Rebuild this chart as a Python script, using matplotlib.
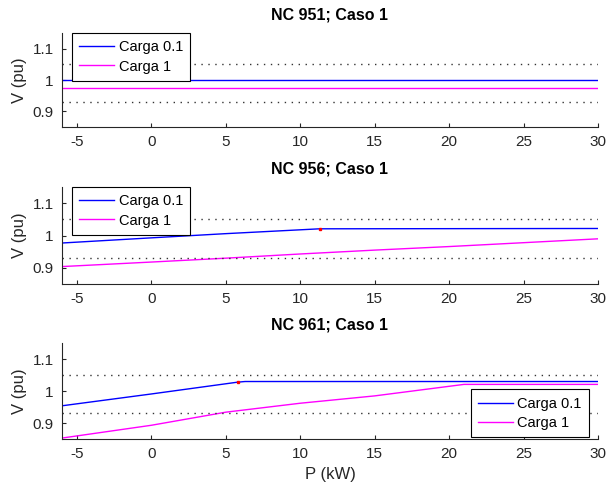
import matplotlib
matplotlib.use('Agg')
import matplotlib.pyplot as plt

plt.rcParams['font.family'] = ['Liberation Sans', 'DejaVu Sans']
plt.rcParams['axes.unicode_minus'] = False

# per-node curves: P (kW) vs V (pu)
titles = ['NC 951; Caso 1', 'NC 956; Caso 1', 'NC 961; Caso 1']

p_951_a = [-6, 30]
v_951_a = [1.0, 1.0]
p_951_b = [-6, 30]
v_951_b = [0.975, 0.975]

p_956_a = [-6, 0, 5, 11.3, 30]
v_956_a = [0.977, 0.993, 1.006, 1.021, 1.022]
p_956_b = [-6, 0, 5, 10, 15, 20, 25, 30]
v_956_b = [0.904, 0.918, 0.930, 0.943, 0.955, 0.966, 0.978, 0.990]

p_961_a = [-6, 0, 5.8, 6.3, 30]
v_961_a = [0.954, 0.991, 1.028, 1.030, 1.030]
p_961_b = [-6, 0, 5, 10, 15, 21, 30]
v_961_b = [0.853, 0.893, 0.934, 0.962, 0.985, 1.021, 1.021]

# red marks where the upper curve reaches its limit
mark_p = [None, 11.3, 5.8]
mark_v = [None, 1.021, 1.028]

v_max = 1.05
v_min = 0.93

series = [
    (p_951_a, v_951_a, p_951_b, v_951_b),
    (p_956_a, v_956_a, p_956_b, v_956_b),
    (p_961_a, v_961_a, p_961_b, v_961_b),
]
legend_loc = [('upper left', (0.019, 1.0)),
              ('upper left', (0.019, 1.0)),
              ('lower right', (0.983, 0.02))]

fig = plt.figure(figsize=(6.1, 4.94), dpi=100)
boxes = [[0.1016, 0.7429, 0.8787, 0.190],
         [0.1016, 0.4251, 0.8787, 0.196],
         [0.1016, 0.1113, 0.8787, 0.194]]

gray = '#262626'
for i, (pa, va, pb, vb) in enumerate(series):
    ax = fig.add_axes(boxes[i])
    ax.plot(pa, va, color='#0000ff', lw=1, label='Carga 0.1')
    ax.plot(pb, vb, color='#ff00ff', lw=1, label='Carga 1')
    ax.axhline(v_max, color='#333333', ls=(0, (1, 4)), lw=1)
    ax.axhline(v_min, color='#333333', ls=(0, (1, 4)), lw=1)
    if mark_p[i] is not None:
        ax.plot(mark_p[i], mark_v[i], 's', color='r', ms=2)
    ax.set_xlim(-6, 30)
    ax.set_ylim(0.85, 1.15)
    ax.set_xticks([-5, 0, 5, 10, 15, 20, 25, 30])
    ax.set_yticks([0.9, 1, 1.1])
    ax.set_yticklabels(['0.9', '1', '1.1'])
    ax.spines['top'].set_visible(False)
    ax.spines['right'].set_visible(False)
    for s in ['left', 'bottom']:
        ax.spines[s].set_color(gray)
        ax.spines[s].set_linewidth(0.8)
    ax.tick_params(direction='in', length=3, labelsize=11, colors=gray, pad=6)
    ax.set_ylabel('V (pu)', fontsize=12, color=gray)
    ax.set_title(titles[i], fontsize=11.5, fontweight='bold', pad=10)
    loc, anchor = legend_loc[i]
    leg = ax.legend(loc=loc, bbox_to_anchor=anchor, fontsize=10.5,
                    fancybox=False, framealpha=1, edgecolor='k',
                    borderpad=0.5, labelspacing=0.35, handlelength=2.4,
                    handletextpad=0.3, borderaxespad=0)
    leg.get_frame().set_linewidth(0.8)
    if i == 2:
        ax.set_xlabel('P (kW)', fontsize=12, color=gray)

fig.savefig('out.png', dpi=100)
